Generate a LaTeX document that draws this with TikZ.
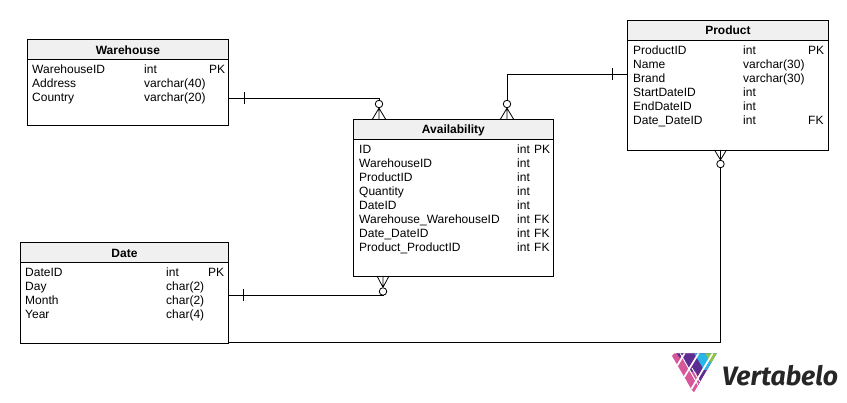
\documentclass[tikz,border=0pt]{standalone}
\usepackage{fontspec}
\setmainfont{Liberation Sans}
\newfontfamily\logofont{Fira Sans}
\definecolor{hdr}{HTML}{F0F0F0}
\definecolor{vpink}{HTML}{D6589B}
\definecolor{vpurple}{HTML}{5F2D91}
\definecolor{vblue}{HTML}{29B5E8}
\definecolor{vgreen}{HTML}{8CC63F}
\tikzset{
  x=1pt,y=-1pt,
  tablebox/.style={draw=black,line width=.9pt,fill=white,inner sep=0pt,minimum width=#1,anchor=north west},
  headbox/.style={draw=black,line width=.9pt,fill=hdr,inner sep=0pt,minimum width=#1,minimum height=20pt,anchor=north west,font=\fontsize{12pt}{13pt}\selectfont\bfseries},
  rowtext/.style={inner sep=0pt,anchor=base west,font=\fontsize{12pt}{13pt}\selectfont},
  link/.style={draw=black,line width=.9pt},
  tick/.style={draw=black,line width=.9pt},
  foot/.style={draw=black,line width=.8pt},
  ring/.style={circle,draw=black,line width=.8pt,fill=white,minimum size=7.5pt,inner sep=0pt},
}
% \tablerows{x1}{x2}{x3}{first baseline}{rows as a/b/c}
\newcommand{\tablerows}[5]{%
  \foreach \a/\b/\c [count=\i from 0] in {#5}{
    \node[rowtext] at (#1,#4+14*\i) {\a};
    \node[rowtext] at (#2,#4+14*\i) {\b};
    \node[rowtext] at (#3,#4+14*\i) {\c};
  }}
\begin{document}
\begin{tikzpicture}
\useasboundingbox (0,0) rectangle (847,403);
% tables
\node[tablebox=201pt,minimum height=86pt] (wh) at (27,39.5) {};
\node[headbox=201pt] (whh) at (27,39.5) {Warehouse};
\tablerows{32}{144}{209}{74}{WarehouseID/int/PK,Address/varchar(40)/,Country/varchar(20)/}
\node[tablebox=200pt,minimum height=157pt] (av) at (353,119.5) {};
\node[headbox=200pt] (avh) at (353,119.5) {Availability};
\tablerows{359}{517}{534}{154}{ID/int/PK,WarehouseID/int/,ProductID/int/,Quantity/int/,DateID/int/,Warehouse\_WarehouseID/int/FK,Date\_DateID/int/FK,Product\_ProductID/int/FK}
\node[tablebox=201pt,minimum height=130pt] (pr) at (627,20) {};
\node[headbox=201pt] (prh) at (627,20) {Product};
\tablerows{633}{743}{808}{55}{ProductID/int/PK,Name/varchar(30)/,Brand/varchar(30)/,StartDateID/int/,EndDateID/int/,Date\_DateID/int/FK}
\node[tablebox=208pt,minimum height=101pt] (da) at (20,242.5) {};
\node[headbox=208pt] (dah) at (20,242.5) {Date};
\tablerows{25}{166}{208}{277}{DateID/int/PK,Day/char(2)/,Month/char(2)/,Year/char(4)/}
% rings
\node[ring] (r1) at (379,104) {};
\node[ring] (r2) at (507,104) {};
\node[ring] (r3) at (383,291.5) {};
\node[ring] (r4) at (720.5,164) {};
% free-end coordinates
\coordinate (w1) at (wh.north east |- 0,98);
\coordinate (p1) at (pr.north west |- 0,74);
\coordinate (d1) at (da.north east |- 0,295);
\coordinate (d2) at (da.south east |- 0,342);
% connectors
\draw[link] (w1) -| (r1.north);
\draw[link] (p1) -| (r2.north);
\draw[link] (d1) -| (r3.south);
\draw[link] (d2) -| (r4.south);
% ticks
\draw[tick] (244,92) -- (244,104);
\draw[tick] (612,68) -- (612,80);
\draw[tick] (243,289) -- (243,301);
% crow's feet
\foreach \r/\x in {r1/379,r2/507}{
  \draw[foot] (\r.south) -- (\x-6.5,119) (\r.south) -- (\x,119) (\r.south) -- (\x+6.5,119);
}
\draw[foot] (r3.north) -- (377,276) (r3.north) -- (383,276) (r3.north) -- (389,276);
\draw[foot] (r4.north) -- (714.5,150) (r4.north) -- (720.5,150) (r4.north) -- (726.5,150);
% logo
\begin{scope}
\clip (672,356) -- (674,353.5) -- (716.5,353.5) -- (694,392) -- (692,390) -- cycle;
\fill[vpink] (660,345) rectangle (730,395);
\fill[vpurple] (680,353) -- (702,392) -- (720,392) -- (720,353) -- cycle;
\fill[vblue] (694,353) -- (704,370) -- (720,370) -- (720,353) -- cycle;
\fill[vgreen] (705,353) -- (718,353) -- (718,357) -- (711,363) -- cycle;
\fill[vpurple] (676,353) -- (683,353) -- (680,358) -- cycle;
\fill[vpink] (685,372) -- (696,372) -- (702,392) -- (690,392) -- cycle;
\draw[white,line width=1.7pt] (686,351) -- (668,381);
\draw[white,line width=1.7pt] (700,351) -- (677,389);
\draw[white,line width=1.7pt] (714,351) -- (686,398);
\draw[white,line width=.9pt] (680,353) -- (702,392);
\draw[white,line width=.9pt] (692,368) -- (700,382);
\end{scope}
\node[inner sep=0pt,anchor=base west,font=\logofont\fontsize{26.6pt}{28pt}\selectfont\bfseries\itshape,text=black!85] (brand) at (722,386) {Vertabelo};
\end{tikzpicture}
\end{document}
